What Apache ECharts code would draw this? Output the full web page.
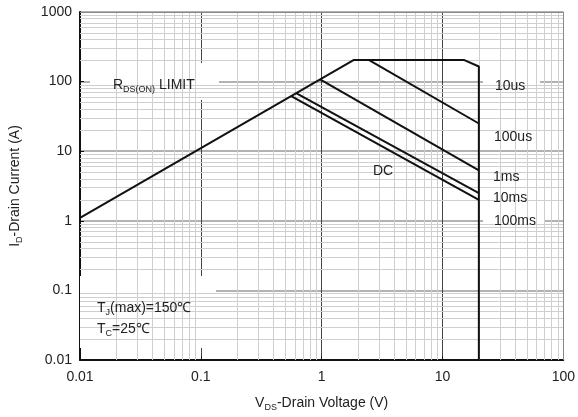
<!DOCTYPE html>
<html>
<head>
<meta charset="utf-8">
<script src="https://cdn.jsdelivr.net/npm/echarts@6/dist/echarts.min.js"></script>
<style>
  html, body { margin: 0; padding: 0; background: #fff; }
  #container { width: 578px; height: 417px; }
</style>
</head>
<body>
<div id="container"></div>
<script>
// SOA curves, points (V in volts, I in amps)
var limitV = [0.01, 1.85, 15, 20, 20];
var limitI = [1.1, 205, 205, 165, 0.01];
var us10V = [2.45, 20];
var us10I = [205, 25];
var us100V = [0.97, 20];
var us100I = [108, 5.3];
var ms1V = [0.62, 20];
var ms1I = [68, 2.5];
var ms10V = [0.56, 20];
var ms10I = [62, 2.0];

var xDecades = [0.01, 0.1, 1, 10];
var yDecades = [0.01, 0.1, 1, 10, 100];

function pairs(xs, ys) {
    var out = [];
    for (var i = 0; i < xs.length; i++) out.push([xs[i], ys[i]]);
    return out;
}

function minorLines(decades, key) {
    var out = [];
    decades.forEach(function (d) {
        for (var k = 2; k <= 9; k++) {
            var o = {};
            o[key] = +(d * k).toPrecision(3);
            out.push(o);
        }
    });
    return out;
}

window.onload = function () {
    var dom = document.getElementById("container");
    var myChart = echarts.init(dom);

    var font = 'Liberation Sans, Arial, sans-serif';
    var black = { color: '#111', width: 2 };
    var subRich = {
        n: { fontFamily: font, fontSize: 14, fill: '#222', lineHeight: 18 },
        s: { fontFamily: font, fontSize: 9, fill: '#222', lineHeight: 11, verticalAlign: 'bottom' }
    };
    var axisRich = {
        n: { fontFamily: font, fontSize: 14, color: '#222', lineHeight: 18 },
        s: { fontFamily: font, fontSize: 9, color: '#222', lineHeight: 11, verticalAlign: 'bottom' }
    };

    function curve(name, xs, ys) {
        return {
            name: name,
            type: 'line',
            data: pairs(xs, ys),
            symbol: 'none',
            lineStyle: black,
            z: 10,
            silent: true
        };
    }

    function label(text, x, y) {
        return { type: 'text', x: x, y: y, z: 6, style: { text: text, font: '14px ' + font, fill: '#222', verticalAlign: 'middle' } };
    }

    var option = {
        animation: false,
        grid: { left: 78, right: 14, top: 12, bottom: 57 },
        xAxis: {
            type: 'log',
            logBase: 10,
            min: 0.01,
            max: 100,
            name: '{n|V}{s|DS}{n|-Drain Voltage (V)}',
            nameLocation: 'middle',
            nameGap: 34,
            nameTextStyle: { rich: axisRich },
            axisLine: { show: true, onZero: false, lineStyle: { color: '#111', width: 2 } },
            axisTick: { show: true, inside: true, length: 4, lineStyle: { color: '#111' } },
            axisLabel: { fontFamily: font, fontSize: 14, color: '#222', margin: 10, formatter: function (v) { return String(v); } },
            splitLine: { show: true, lineStyle: { color: '#444', width: 1 } }
        },
        yAxis: {
            type: 'log',
            logBase: 10,
            min: 0.01,
            max: 1000,
            name: '{n|I}{s|D}{n|-Drain Current (A)}',
            nameLocation: 'middle',
            nameGap: 56,
            nameTextStyle: { rich: axisRich },
            axisLine: { show: true, onZero: false, lineStyle: { color: '#111', width: 2 } },
            axisTick: { show: true, inside: true, length: 4, lineStyle: { color: '#111' } },
            axisLabel: { fontFamily: font, fontSize: 14, color: '#222', margin: 8, formatter: function (v) { return String(v); } },
            splitLine: { show: true, lineStyle: { color: '#999', width: 1.5 } }
        },
        graphic: [
            { type: 'rect', shape: { x: 90, y: 63, width: 129, height: 37 }, style: { fill: '#fff' }, z: 5 },
            { type: 'rect', shape: { x: 80, y: 276, width: 136, height: 72 }, style: { fill: '#fff' }, z: 5 },
            { type: 'rect', shape: { x: 483, y: 72, width: 57, height: 28 }, style: { fill: '#fff' }, z: 5 },
            { type: 'rect', shape: { x: 483, y: 124, width: 60, height: 26 }, style: { fill: '#fff' }, z: 5 },
            { type: 'rect', shape: { x: 483, y: 164, width: 62, height: 70 }, style: { fill: '#fff' }, z: 5 },
            { type: 'text', x: 113, y: 85, z: 6, style: { text: '{n|R}{s|DS(ON)}{n| LIMIT}', verticalAlign: 'middle', rich: subRich } },
            { type: 'text', x: 97, y: 308, z: 6, style: { text: '{n|T}{s|J}{n|(max)=150\u2103}', verticalAlign: 'middle', rich: subRich } },
            { type: 'text', x: 97, y: 329, z: 6, style: { text: '{n|T}{s|C}{n|=25\u2103}', verticalAlign: 'middle', rich: subRich } },
            label('10us', 495, 86),
            label('100us', 494, 137),
            label('1ms', 493, 177),
            label('10ms', 493, 198),
            label('100ms', 494, 221),
            label('DC', 373, 171)
        ],
        series: [
            {
                name: 'grid',
                type: 'line',
                data: [],
                z: 1,
                silent: true,
                markLine: {
                    silent: true,
                    symbol: 'none',
                    label: { show: false },
                    lineStyle: { color: '#cfcfcf', width: 1, type: 'solid' },
                    data: minorLines(xDecades, 'xAxis').concat(minorLines(yDecades, 'yAxis'))
                }
            },
            {
                name: 'frame',
                type: 'line',
                data: [],
                z: 2,
                silent: true,
                markLine: {
                    silent: true,
                    symbol: 'none',
                    label: { show: false },
                    lineStyle: { color: '#888', width: 1, type: 'solid' },
                    data: [{ yAxis: 1000 }, { xAxis: 100 }]
                }
            },
            curve('limit', limitV, limitI),
            curve('10us', us10V, us10I),
            curve('100us', us100V, us100I),
            curve('1ms', ms1V, ms1I),
            curve('10ms', ms10V, ms10I)
        ]
    };
    myChart.setOption(option);
};
</script>
</body>
</html>
